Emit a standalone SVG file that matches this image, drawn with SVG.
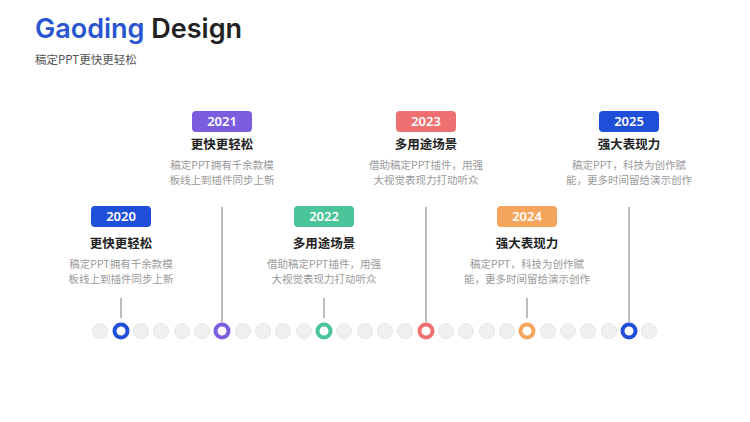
<svg xmlns="http://www.w3.org/2000/svg" width="750" height="422" viewBox="0 0 750 422">
<style>
.t{font-family:"Noto Sans CJK SC","Noto Sans",sans-serif;font-weight:700;font-size:12.5px;fill:#222;text-anchor:middle}
.d{font-family:"Noto Sans CJK SC","Noto Sans",sans-serif;font-size:10.5px;fill:#999;text-anchor:middle}
.y{font-family:"Noto Sans","Liberation Sans",sans-serif;font-weight:600;font-size:13px;fill:#fff;text-anchor:middle}
.ln{stroke:#9a9a9a;stroke-width:1.3}
.g{fill:#f0f0f0;stroke:#e6e6e6;stroke-width:1}
</style>
<rect width="750" height="422" fill="#fff"/>
<text x="35" y="38" font-family="Inter,'Noto Sans',sans-serif" font-size="27" font-weight="600"><tspan fill="#2a55d0">Gaoding</tspan><tspan fill="#222"> Design</tspan></text>
<text x="35" y="64" font-family="'Noto Sans CJK SC',sans-serif" font-size="11.5" fill="#555">稿定PPT更快更轻松</text>
<g id="connectors">
<line class="ln" x1="121" y1="298" x2="121" y2="318"/>
<line class="ln" x1="222" y1="207" x2="222" y2="322"/>
<line class="ln" x1="324" y1="298" x2="324" y2="318"/>
<line class="ln" x1="426" y1="207" x2="426" y2="322"/>
<line class="ln" x1="527" y1="298" x2="527" y2="318"/>
<line class="ln" x1="629" y1="207" x2="629" y2="322"/>
</g>
<g id="dots">
<circle class="g" cx="100" cy="331" r="7.5"/><circle class="g" cx="141" cy="331" r="7.5"/><circle class="g" cx="161" cy="331" r="7.5"/><circle class="g" cx="182" cy="331" r="7.5"/><circle class="g" cx="202" cy="331" r="7.5"/>
<circle class="g" cx="243" cy="331" r="7.5"/><circle class="g" cx="263" cy="331" r="7.5"/><circle class="g" cx="283" cy="331" r="7.5"/><circle class="g" cx="304" cy="331" r="7.5"/>
<circle class="g" cx="344" cy="331" r="7.5"/><circle class="g" cx="365" cy="331" r="7.5"/><circle class="g" cx="385" cy="331" r="7.5"/><circle class="g" cx="405" cy="331" r="7.5"/>
<circle class="g" cx="446" cy="331" r="7.5"/><circle class="g" cx="466" cy="331" r="7.5"/><circle class="g" cx="487" cy="331" r="7.5"/><circle class="g" cx="507" cy="331" r="7.5"/>
<circle class="g" cx="548" cy="331" r="7.5"/><circle class="g" cx="568" cy="331" r="7.5"/><circle class="g" cx="588" cy="331" r="7.5"/><circle class="g" cx="609" cy="331" r="7.5"/>
<circle class="g" cx="649" cy="331" r="7.5"/>
</g>
<g id="n2020">
<circle cx="121" cy="331" r="6.5" fill="#fff" stroke="#1f4fd8" stroke-width="4"/>
<rect x="91" y="206" width="60" height="21" rx="4" fill="#1f4fd8"/><text class="y" x="121" y="221">2020</text>
<text class="t" x="121" y="248">更快更轻松</text>
<text class="d" x="121" y="268">稿定PPT拥有千余款模</text><text class="d" x="121" y="283">板线上到插件同步上新</text>
</g>
<g id="n2021">
<circle cx="222" cy="331" r="6.5" fill="#fff" stroke="#7b5ee0" stroke-width="4"/>
<rect x="192" y="111" width="60" height="21" rx="4" fill="#7b5ee0"/><text class="y" x="222" y="126">2021</text>
<text class="t" x="222" y="149">更快更轻松</text>
<text class="d" x="222" y="169">稿定PPT拥有千余款模</text><text class="d" x="222" y="184">板线上到插件同步上新</text>
</g>
<g id="n2022">
<circle cx="324" cy="331" r="6.5" fill="#fff" stroke="#4cc49a" stroke-width="4"/>
<rect x="294" y="206" width="60" height="21" rx="4" fill="#4cc49a"/><text class="y" x="324" y="221">2022</text>
<text class="t" x="324" y="248">多用途场景</text>
<text class="d" x="324" y="268">借助稿定PPT插件，用强</text><text class="d" x="324" y="283">大视觉表现力打动听众</text>
</g>
<g id="n2023">
<circle cx="426" cy="331" r="6.5" fill="#fff" stroke="#ef7070" stroke-width="4"/>
<rect x="396" y="111" width="60" height="21" rx="4" fill="#ef7070"/><text class="y" x="426" y="126">2023</text>
<text class="t" x="426" y="149">多用途场景</text>
<text class="d" x="426" y="169">借助稿定PPT插件，用强</text><text class="d" x="426" y="184">大视觉表现力打动听众</text>
</g>
<g id="n2024">
<circle cx="527" cy="331" r="6.5" fill="#fff" stroke="#f5a65c" stroke-width="4"/>
<rect x="497" y="206" width="60" height="21" rx="4" fill="#f5a65c"/><text class="y" x="527" y="221">2024</text>
<text class="t" x="527" y="248">强大表现力</text>
<text class="d" x="527" y="268">稿定PPT，科技为创作赋</text><text class="d" x="527" y="283">能，更多时间留给演示创作</text>
</g>
<g id="n2025">
<circle cx="629" cy="331" r="6.5" fill="#fff" stroke="#1f4fd8" stroke-width="4"/>
<rect x="599" y="111" width="60" height="21" rx="4" fill="#1f4fd8"/><text class="y" x="629" y="126">2025</text>
<text class="t" x="629" y="149">强大表现力</text>
<text class="d" x="629" y="169">稿定PPT，科技为创作赋</text><text class="d" x="629" y="184">能，更多时间留给演示创作</text>
</g>
</svg>
